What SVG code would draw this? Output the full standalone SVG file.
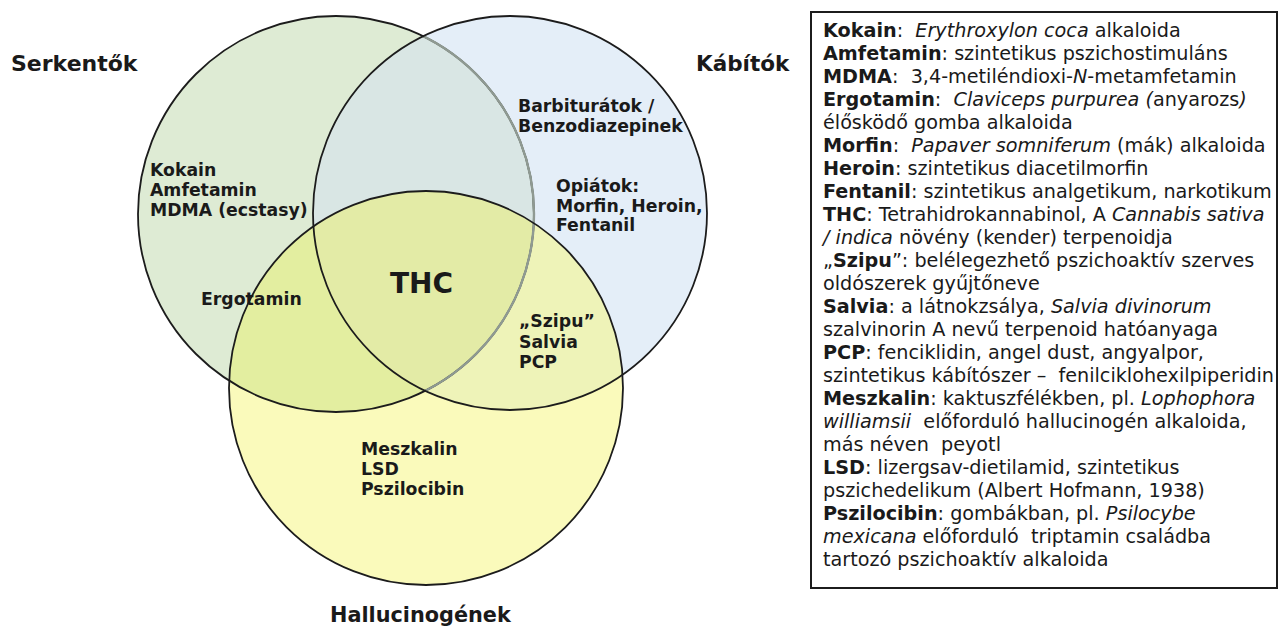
<svg xmlns="http://www.w3.org/2000/svg" width="1279" height="628" viewBox="0 0 1279 628">
<style>
.lbl{font-family:"DejaVu Sans",Verdana,sans-serif;font-weight:bold;fill:#1a1a1a}
.cl{font-size:17.3px}
.ttl{font-size:22px}
.box{font-family:"DejaVu Sans",Verdana,sans-serif;font-size:19.2px;fill:#1a1a1a;white-space:pre}
.b{font-weight:bold}
.i{font-style:italic}
.ring{fill:none;stroke:#1c1c1c;stroke-width:1.8}
</style>
<defs>
<clipPath id="clipL"><circle cx="336" cy="214" r="198"/></clipPath>
<clipPath id="clipR"><circle cx="510" cy="213" r="197"/></clipPath>
</defs>
<rect width="1279" height="628" fill="#ffffff"/>
<g id="circles">
<circle id="serkentok" cx="336" cy="214" r="198" fill="#deebd4"/>
<circle id="kabitok" cx="510" cy="213" r="197" fill="#e4eef8"/>
<circle id="hallucinogenek" cx="426" cy="388" r="197" fill="#fafabb"/>
<g clip-path="url(#clipL)"><circle cx="510" cy="213" r="197" fill="#d9e6e4"/></g>
<g clip-path="url(#clipL)"><circle cx="426" cy="388" r="197" fill="#e3eea0"/></g>
<g clip-path="url(#clipR)"><circle cx="426" cy="388" r="197" fill="#eef3b8"/></g>
<g clip-path="url(#clipL)"><g clip-path="url(#clipR)"><circle cx="426" cy="388" r="197" fill="#e3eba6"/></g></g>
<circle class="ring" cx="336" cy="214" r="198"/>
<g clip-path="url(#clipR)"><circle cx="336" cy="214" r="198" fill="none" stroke="#8f9a92" stroke-width="2.4"/></g>
<circle class="ring" cx="510" cy="213" r="197"/>
<circle class="ring" cx="426" cy="388" r="197"/>
</g>
<g id="titles">
<text class="lbl ttl" x="11" y="71">Serkentők</text>
<text class="lbl" x="696" y="71" font-size="21.5px">Kábítók</text>
<text class="lbl" x="330" y="622" font-size="20.8px">Hallucinogének</text>
</g>
<g id="labels">
<text class="lbl cl" x="150" y="176">Kokain</text>
<text class="lbl cl" x="150" y="196">Amfetamin</text>
<text class="lbl cl" x="150" y="216">MDMA (ecstasy)</text>
<text class="lbl cl" x="201" y="305">Ergotamin</text>
<text class="lbl" x="390" y="293" font-size="28px">THC</text>
<text class="lbl cl" x="518" y="112">Barbiturátok /</text>
<text class="lbl cl" x="518" y="132">Benzodiazepinek</text>
<text class="lbl cl" x="556" y="192">Opiátok:</text>
<text class="lbl cl" x="556" y="212">Morfin, Heroin,</text>
<text class="lbl cl" x="556" y="231">Fentanil</text>
<text class="lbl cl" x="519" y="327">„Szipu”</text>
<text class="lbl cl" x="519" y="348">Salvia</text>
<text class="lbl cl" x="519" y="368">PCP</text>
<text class="lbl cl" x="361" y="455">Meszkalin</text>
<text class="lbl cl" x="361" y="475">LSD</text>
<text class="lbl cl" x="361" y="495">Pszilocibin</text>
</g>
<g id="legend">
<rect x="811" y="12" width="466" height="576" fill="#ffffff" stroke="#1c1c1c" stroke-width="2"/>
<text class="box" x="823" y="37" xml:space="preserve"><tspan class="b">Kokain</tspan>:  <tspan class="i">Erythroxylon coca</tspan> alkaloida</text>
<text class="box" x="823" y="60"><tspan class="b">Amfetamin</tspan>: szintetikus pszichostimuláns</text>
<text class="box" x="823" y="83" xml:space="preserve"><tspan class="b">MDMA</tspan>:  3,4-metiléndioxi-<tspan class="i">N</tspan>-metamfetamin</text>
<text class="box" x="823" y="106" xml:space="preserve"><tspan class="b">Ergotamin</tspan>:  <tspan class="i">Claviceps purpurea (</tspan>anyarozs<tspan class="i">)</tspan></text>
<text class="box" x="823" y="129">élősködő gomba alkaloida</text>
<text class="box" x="823" y="152" xml:space="preserve"><tspan class="b">Morfin</tspan>:  <tspan class="i">Papaver somniferum</tspan> (mák) alkaloida</text>
<text class="box" x="823" y="175"><tspan class="b">Heroin</tspan>: szintetikus diacetilmorfin</text>
<text class="box" x="823" y="198"><tspan class="b">Fentanil</tspan>: szintetikus analgetikum, narkotikum</text>
<text class="box" x="823" y="221"><tspan class="b">THC</tspan>: Tetrahidrokannabinol, A <tspan class="i">Cannabis sativa</tspan></text>
<text class="box" x="823" y="244"><tspan class="i">/ indica</tspan> növény (kender) terpenoidja</text>
<text class="box" x="823" y="267">„<tspan class="b">Szipu</tspan>”: belélegezhető pszichoaktív szerves</text>
<text class="box" x="823" y="290">oldószerek gyűjtőneve</text>
<text class="box" x="823" y="313"><tspan class="b">Salvia</tspan>: a látnokzsálya, <tspan class="i">Salvia divinorum</tspan></text>
<text class="box" x="823" y="336">szalvinorin A nevű terpenoid hatóanyaga</text>
<text class="box" x="823" y="359"><tspan class="b">PCP</tspan>: fenciklidin, angel dust, angyalpor,</text>
<text class="box" x="823" y="382" xml:space="preserve">szintetikus kábítószer –  fenilciklohexilpiperidin</text>
<text class="box" x="823" y="405"><tspan class="b">Meszkalin</tspan>: kaktuszfélékben, pl. <tspan class="i">Lophophora</tspan></text>
<text class="box" x="823" y="428" xml:space="preserve"><tspan class="i">williamsii</tspan>  előforduló hallucinogén alkaloida,</text>
<text class="box" x="823" y="451" xml:space="preserve">más néven  peyotl</text>
<text class="box" x="823" y="474"><tspan class="b">LSD</tspan>: lizergsav-dietilamid, szintetikus</text>
<text class="box" x="823" y="497">pszichedelikum (Albert Hofmann, 1938)</text>
<text class="box" x="823" y="520"><tspan class="b">Pszilocibin</tspan>: gombákban, pl. <tspan class="i">Psilocybe</tspan></text>
<text class="box" x="823" y="543" xml:space="preserve"><tspan class="i">mexicana</tspan> előforduló  triptamin családba</text>
<text class="box" x="823" y="566">tartozó pszichoaktív alkaloida</text>
</g>
</svg>
